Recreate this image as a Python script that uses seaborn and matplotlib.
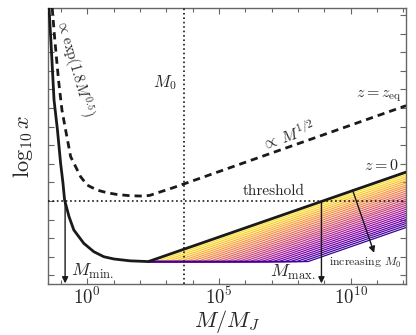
import numpy as np
import pandas as pd
import seaborn as sns
import matplotlib.pyplot as plt
from matplotlib.ticker import FixedLocator, LogFormatterMathtext, NullFormatter, MultipleLocator

# values: x = log10(M/M_J), y = log10 x
logm_z0 = [-1.45, -1.36, -1.26, -1.13, -1.01, -0.92, -0.86, -0.69, -0.51, -0.13,
           0.25, 0.63, 1.01, 1.62, 2.32, 12.1]
logx_z0 = [14.38, 12.11, 9.42, 7.81, 6.02, 4.95, 4.05, 3.15, 2.44, 1.72,
           1.27, 1.00, 0.88, 0.78, 0.74, 5.55]

logm_eq = [-1.33, -1.23, -1.09, -0.96, -0.82, -0.63, -0.44, -0.25, 0.0, 0.38,
           0.76, 1.12, 1.62, 2.13, 2.38, 2.76, 3.26, 12.1]
logx_eq = [14.38, 12.65, 10.50, 8.89, 7.81, 6.38, 5.84, 5.30, 4.85, 4.58,
           4.44, 4.35, 4.28, 4.26, 4.30, 4.48, 4.71, 9.12]

# family of curves for increasing M0 (flat floor, then break, then slope up)
band_start = 2.32
band_floor = 0.74
band_break = [2.40, 2.62, 2.84, 3.06, 3.29, 3.51, 3.73, 3.95, 4.17, 4.39,
              4.62, 4.84, 5.06, 5.28, 5.50, 5.72, 5.94, 6.17, 6.39, 6.61,
              6.83, 7.05, 7.27, 7.50, 7.72, 7.94, 8.16, 8.38]
band_end = [5.51, 5.40, 5.29, 5.18, 5.07, 4.96, 4.85, 4.75, 4.64, 4.53,
            4.42, 4.31, 4.20, 4.09, 3.98, 3.88, 3.77, 3.66, 3.55, 3.44,
            3.33, 3.22, 3.11, 3.00, 2.89, 2.79, 2.68, 2.57]
band_right = 12.1

threshold = 4.0
logm_M0 = 3.69
logm_min = -0.84
logm_max = 8.89

sns.set_theme(style="ticks")
plt.rcParams["font.family"] = ["cmr10", "DejaVu Serif"]
plt.rcParams["mathtext.fontset"] = "cm"
plt.rcParams["axes.formatter.use_mathtext"] = True
plt.rcParams["axes.unicode_minus"] = False

fig, ax = plt.subplots(figsize=(4.16, 3.35), dpi=100)
fig.subplots_adjust(left=0.1147, right=0.976, bottom=0.152, top=0.976)

rows = []
for i, (b, e) in enumerate(zip(band_break, band_end)):
    for lm, lx in [(band_start, band_floor), (b, band_floor), (band_right, e)]:
        rows.append({"M": 10**lm, "logx": lx, "line": i})
band = pd.DataFrame(rows)
n = len(band_break)
cols = plt.get_cmap("plasma")(np.linspace(0.97, 0.08, n))
pal = {i: cols[i] for i in range(n)}
sns.lineplot(data=band, x="M", y="logx", hue="line", palette=pal, estimator=None,
             sort=False, legend=False, lw=0.9, ax=ax)

sns.lineplot(x=10**np.array(logm_eq), y=logx_eq, color="k", lw=2,
             ls=(0, (2.6, 1.8)), sort=False, ax=ax, zorder=5)
sns.lineplot(x=10**np.array(logm_z0), y=logx_z0, color="k", lw=2,
             sort=False, ax=ax, zorder=6)

ax.axhline(threshold, color="k", ls=":", lw=1.2, zorder=4)
ax.axvline(10**logm_M0, color="k", ls=":", lw=1.2, zorder=4)

arrow = dict(arrowstyle="-|>", color="k", lw=1, mutation_scale=9, shrinkA=0, shrinkB=0)
ax.annotate("", xy=(10**logm_min, -0.43), xytext=(10**logm_min, threshold), arrowprops=arrow, zorder=7)
ax.annotate("", xy=(10**logm_max, -0.43), xytext=(10**logm_max, threshold), arrowprops=arrow, zorder=7)
ax.annotate("", xy=(10**10.89, 1.21), xytext=(10**10.07, 4.59), arrowprops=arrow, zorder=7)

ax.text(10**-0.6, 0.22, r"$M_{\rm min.}$", fontsize=13, ha="left", va="center")
ax.text(10**8.66, 0.18, r"$M_{\rm max.}$", fontsize=13, ha="right", va="center")
ax.text(10**10.57, 0.66, r"increasing $M_0$", fontsize=8.5, ha="center", va="center")
ax.text(10**7.07, 4.5, "threshold", fontsize=11, ha="center", va="center")
ax.text(10**11.94, 9.64, r"$z=z_{\rm eq}$", fontsize=11.5, ha="right", va="center")
ax.text(10**11.83, 5.93, r"$z=0$", fontsize=11.5, ha="right", va="center")
ax.text(10**3.39, 10.34, r"$M_0$", fontsize=12, ha="right", va="center")
ax.text(10**7.65, 7.49, r"$\propto\,M^{1/2}$", fontsize=11.5, ha="center", va="center", rotation=19.5)
ax.text(10**-0.5, 11.15, r"$\propto\,\exp(1.8M^{0.5})$", fontsize=10.5, ha="center", va="center", rotation=-74)

ax.set_xscale("log")
ax.set_xlim(10**-1.5, 10**12.1)
ax.set_ylim(-0.47, 14.37)
ax.xaxis.set_major_locator(FixedLocator([1e0, 1e5, 1e10]))
ax.xaxis.set_major_formatter(LogFormatterMathtext())
ax.xaxis.set_minor_locator(FixedLocator([10.0**k for k in range(-1, 13)]))
ax.xaxis.set_minor_formatter(NullFormatter())
ax.yaxis.set_major_locator(MultipleLocator(1))
ax.yaxis.set_major_formatter(NullFormatter())
ax.tick_params(which="both", direction="in", top=True, right=True, color="0.4", width=0.8)
ax.tick_params(which="major", length=4)
ax.tick_params(which="minor", length=3)
ax.tick_params(axis="x", labelsize=13.5, pad=2)
for s in ax.spines.values():
    s.set_color("0.4")
    s.set_linewidth(1.0)

ax.set_xlabel(r"$M/M_J$", fontsize=16, va="center")
ax.xaxis.set_label_coords(0.5, -0.136)
ax.set_ylabel(r"$\log_{10}x$", fontsize=16, labelpad=6)

fig.savefig("out.png", dpi=100)
